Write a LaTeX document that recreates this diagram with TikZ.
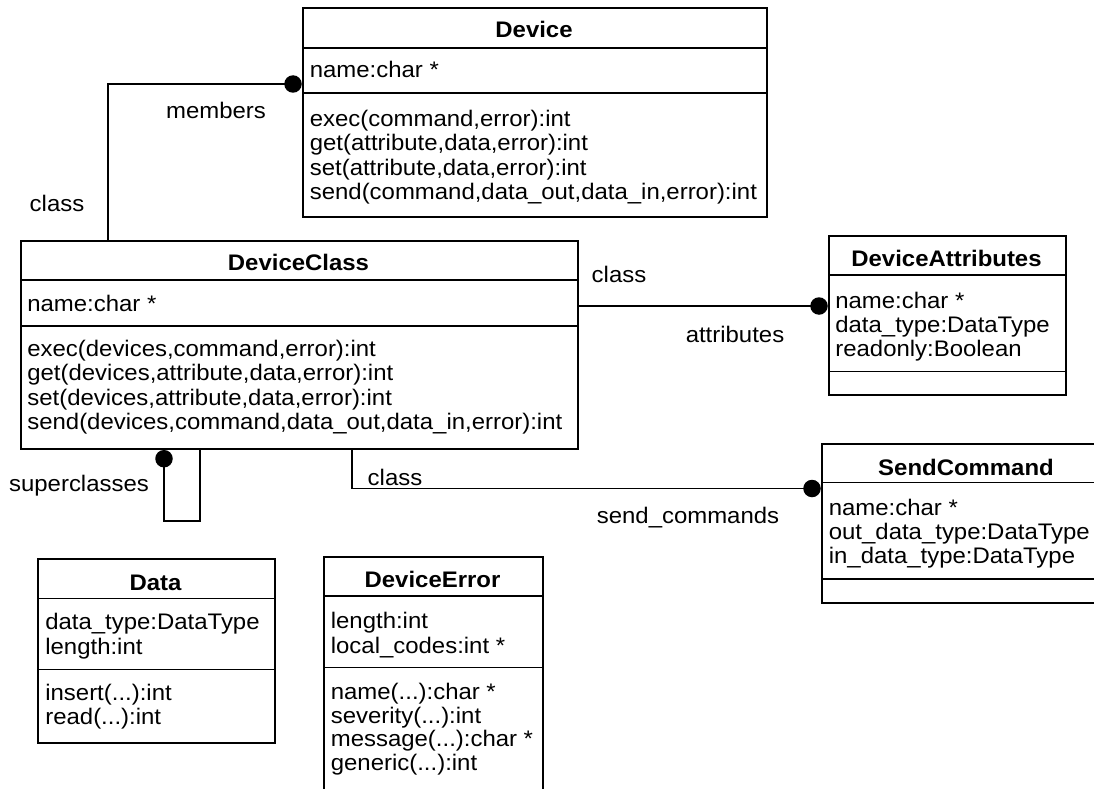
\documentclass[tikz,border=0pt]{standalone}
\usepackage{fontspec}
\setmainfont{Liberation Sans}[FakeStretch=1.064]
\begin{document}
\begin{tikzpicture}[x=1pt,y=-1pt,line width=1.7pt,
  box/.style={draw,inner sep=0pt,anchor=north west},
  txt/.style={inner sep=0pt,anchor=base west,font=\fontsize{22.5}{25}\selectfont},
  ttl/.style={inner sep=0pt,anchor=base,font=\fontsize{22.5}{25}\selectfont\bfseries},
  lbl/.style={inner sep=0pt,anchor=base,font=\fontsize{22.5}{25}\selectfont},
  dot/.style={circle,fill,draw=none,inner sep=0pt,minimum size=17.5pt},
  conn/.style={draw,line width=1.7pt}]
\useasboundingbox (0,0) rectangle (1094,789);

% ---------------- Device
\node[box,minimum width=464pt,minimum height=209pt] (dev) at (302,7) {};
\draw (dev.north west) ++(0,41) -- ++(464,0);
\draw (dev.north west) ++(0,86) -- ++(464,0);
\node[ttl] (devT) at (534,38) {Device};
\node[txt] (devA1) at (309,78) {name:char *};
\node[txt] (devO1) at (309,126) {exec(command,error):int};
\node[txt] (devO2) at (309,150.5) {get(attribute,data,error):int};
\node[txt] (devO3) at (309,175) {set(attribute,data,error):int};
\node[txt] (devO4) at (309,199.5) {send(command,data\_out,data\_in,error):int};

% ---------------- DeviceClass
\node[box,minimum width=557pt,minimum height=208pt] (dc) at (20,240) {};
\draw (dc.north west) ++(0,40) -- ++(557,0);
\draw (dc.north west) ++(0,86) -- ++(557,0);
\node[ttl] (dcT) at (298.5,270) {DeviceClass};
\node[txt] (dcA1) at (26.5,311) {name:char *};
\node[txt] (dcO1) at (26.5,356) {exec(devices,command,error):int};
\node[txt] (dcO2) at (26.5,380.5) {get(devices,attribute,data,error):int};
\node[txt] (dcO3) at (26.5,405) {set(devices,attribute,data,error):int};
\node[txt] (dcO4) at (26.5,429.5) {send(devices,command,data\_out,data\_in,error):int};

% ---------------- DeviceAttributes
\node[box,minimum width=237pt,minimum height=159pt] (da) at (828,235) {};
\draw (da.north west) ++(0,40) -- ++(237,0);
\draw (da.north west) ++(0,136.5) -- ++(237,0);
\node[ttl] (daT) at (946.5,266) {DeviceAttributes};
\node[txt] (daA1) at (834.5,308) {name:char *};
\node[txt] (daA2) at (834.5,332) {data\_type:DataType};
\node[txt] (daA3) at (834.5,356) {readonly:Boolean};

% ---------------- SendCommand
\node[box,minimum width=290pt,minimum height=159pt] (sc) at (821,443) {};
\draw (sc.north west) ++(0,39.5) -- ++(290,0);
\draw (sc.north west) ++(0,136) -- ++(290,0);
\node[ttl] (scT) at (966,475) {SendCommand};
\node[txt] (scA1) at (828,515.5) {name:char *};
\node[txt] (scA2) at (828,539.5) {out\_data\_type:DataType};
\node[txt] (scA3) at (828,563.5) {in\_data\_type:DataType};

% ---------------- Data
\node[box,minimum width=237pt,minimum height=184pt] (data) at (37,558) {};
\draw (data.north west) ++(0,40.5) -- ++(237,0);
\draw (data.north west) ++(0,111.5) -- ++(237,0);
\node[ttl] (dataT) at (155.5,590) {Data};
\node[txt] (dataA1) at (44.5,629.5) {data\_type:DataType};
\node[txt] (dataA2) at (44.5,654) {length:int};
\node[txt] (dataO1) at (44.5,700.5) {insert(...):int};
\node[txt] (dataO2) at (44.5,724.5) {read(...):int};

% ---------------- DeviceError
\node[box,minimum width=219pt,minimum height=240pt] (de) at (323,556) {};
\draw (de.north west) ++(0,40) -- ++(219,0);
\draw (de.north west) ++(0,111.5) -- ++(219,0);
\node[ttl] (deT) at (432.5,587) {DeviceError};
\node[txt] (deA1) at (330,628) {length:int};
\node[txt] (deA2) at (330,653) {local\_codes:int *};
\node[txt] (deO1) at (330,699.5) {name(...):char *};
\node[txt] (deO2) at (330,723) {severity(...):int};
\node[txt] (deO3) at (330,746.5) {message(...):char *};
\node[txt] (deO4) at (330,770) {generic(...):int};

% ---------------- connectors
\draw[conn] ([shift={(88,0)}]dc.north west) |- ([shift={(-9,77)}]dev.north west) node[dot] (d1) {};
\draw[conn] ([shift={(180,0)}]dc.south west) -- ++(0,71) -| ([shift={(144,9)}]dc.south west) node[dot] (d2) {};
\draw[conn] ([shift={(0,66)}]dc.north east) -- ([shift={(-9,71)}]da.north west) node[dot] (d3) {};
\draw[conn] ([shift={(332,0)}]dc.south west) |- ([shift={(-9,45.5)}]sc.north west) node[dot] (d4) {};

% ---------------- labels
\node[lbl] (lMembers) at (216,118) {members};
\node[lbl] (lClass1) at (57,211.5) {class};
\node[lbl] (lSuper) at (79,491) {superclasses};
\node[lbl] (lClass2) at (619,282) {class};
\node[lbl] (lAttr) at (735,342) {attributes};
\node[lbl] (lClass3) at (395,485) {class};
\node[lbl] (lSend) at (688,523) {send\_commands};
\end{tikzpicture}
\end{document}
